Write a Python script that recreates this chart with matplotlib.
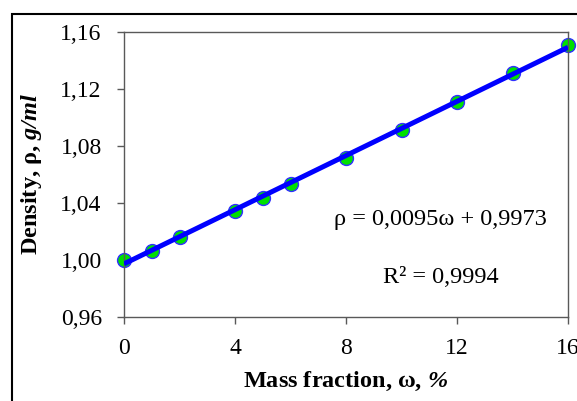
#!/usr/bin/env python3
"""Density of the solution against mass fraction, with a linear fit."""
import numpy as np
import matplotlib.pyplot as plt
from matplotlib.patches import Rectangle
from matplotlib.ticker import FuncFormatter

mass_fraction = [0, 1, 2, 4, 5, 6, 8, 10, 12, 14, 16]
density = [1.000, 1.0065, 1.0163, 1.0344, 1.0438, 1.0532, 1.0716,
           1.0909, 1.1110, 1.1310, 1.1510]
fit_slope = 0.0095
fit_intercept = 0.9973
x_ticks = [0, 4, 8, 12, 16]
y_ticks = [0.96, 1.00, 1.04, 1.08, 1.12, 1.16]

plt.rcParams["font.family"] = ["Liberation Serif", "DejaVu Serif"]
plt.rcParams["mathtext.fontset"] = "custom"
plt.rcParams["mathtext.rm"] = "Liberation Serif"
plt.rcParams["mathtext.it"] = "Liberation Serif:italic"
plt.rcParams["mathtext.bf"] = "Liberation Serif:bold"
plt.rcParams["mathtext.bfit"] = "Liberation Serif:italic:bold"

fig = plt.figure(figsize=(5.77, 4.01), dpi=100)
fig.patches.append(Rectangle((12 / 577, -0.05), 1.2, 1 - 14 / 401 + 0.05,
                             transform=fig.transFigure, fill=False,
                             edgecolor="black", linewidth=1.5))
ax = fig.add_axes([124 / 577, 84 / 401, 444 / 577, 285 / 401])

ax.plot(mass_fraction, density, "o", color="#00e000", markersize=10,
        markeredgecolor="#3030ff", markeredgewidth=1.0, zorder=2,
        clip_on=False)
x_fit = np.array([0, 16])
ax.plot(x_fit, fit_slope * x_fit + fit_intercept, color="#0000ff",
        linewidth=3.6, zorder=3, solid_capstyle="butt")

ax.set_xlim(0, 16)
ax.set_ylim(0.96, 1.16)
ax.set_xticks(x_ticks)
ax.set_yticks(y_ticks)
ax.yaxis.set_major_formatter(FuncFormatter(lambda v, p: f"{v:.2f}".replace(".", ",")))
ax.tick_params(direction="out", length=5, width=1, color="#595959",
               labelsize=17)
ax.tick_params(axis="x", pad=10)
ax.tick_params(axis="y", pad=11)
for spine in ax.spines.values():
    spine.set_color("#595959")
    spine.set_linewidth(1.0)

ax.set_xlabel(r"Mass fraction, ω, $\mathbfit{\%}$", fontsize=17.5,
              fontweight="bold", labelpad=8)
ax.set_ylabel(r"Density, ρ, $\mathbfit{g/ml}$", fontsize=17.5,
              fontweight="bold", labelpad=12)

ax.text(0.712, 0.343, "ρ = 0,0095ω + 0,9973", transform=ax.transAxes,
        fontsize=17.5, ha="center", va="center")
ax.text(0.713, 0.138, "R² = 0,9994", transform=ax.transAxes,
        fontsize=17.5, ha="center", va="center")

fig.savefig("out.png", dpi=100)
